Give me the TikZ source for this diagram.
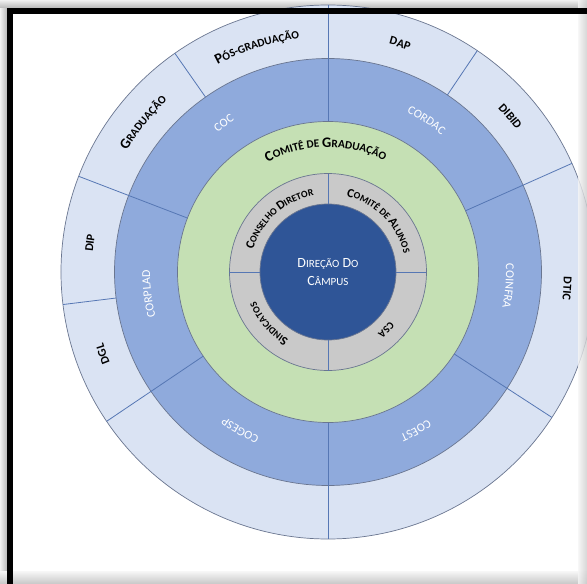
\documentclass[tikz,border=0pt]{standalone}
\usepackage{fontspec}
\setmainfont{Carlito}
\usetikzlibrary{decorations.text}

% ring colours
\definecolor{ringouter}{HTML}{DAE3F3}
\definecolor{ringblue}{HTML}{8FAADC}
\definecolor{ringgreen}{HTML}{C5E0B4}
\definecolor{ringgray}{HTML}{C9C9C9}
\definecolor{core}{HTML}{2F5597}
\definecolor{edgeline}{HTML}{6A7690}
\definecolor{spoke}{HTML}{5677B4}

% label fonts (small capitals are imitated with two sizes)
\newcommand\OuterBig{\bfseries\fontsize{14.5}{15}\selectfont}
\newcommand\OuterSmall{\bfseries\fontsize{11.3}{12}\selectfont}
\newcommand\OuterCaps{\bfseries\fontsize{12}{13}\selectfont}
\newcommand\GrayBig{\bfseries\fontsize{12.5}{13}\selectfont}
\newcommand\GraySmall{\bfseries\fontsize{9.8}{10}\selectfont}
\newcommand\GrayCaps{\bfseries\fontsize{10.5}{11}\selectfont}
\newcommand\BlueLbl{\color{white}\fontsize{12}{13}\selectfont}
\newcommand\lowcaps[1]{{\fontsize{11}{18}\selectfont #1}}

% text set clockwise along an arc: centre angle, baseline radius, half span, text
\newcommand\ringtext[4]{%
  \path[decorate, decoration={text along path, text align=center, text={#4}}]
    ({#1+#3}:#2pt) arc[start angle={#1+#3}, end angle={#1-#3}, radius=#2pt];}

\tikzset{
  ring/.style={draw=edgeline, line width=0.7pt},
  divider/.style={draw=spoke, line width=0.8pt},
}

\begin{document}
\begin{tikzpicture}[x=1pt,y=1pt]
  \useasboundingbox (-328,-312) rectangle (259,272);
  \fill[white] (-328,-312) rectangle (259,272);

  % soft shadow around the frame
  \shade[left color=black!6, right color=black!28] (-328,-312) rectangle (-321,272);
  \shade[bottom color=black!28, top color=black!6] (-328,264) rectangle (259,272);
  \shade[top color=black!3, bottom color=black!22] (-328,-312) rectangle (259,-299);

  \begin{scope}
    \clip (-328,-312) rectangle (259,272);
    % concentric rings
    \fill[ringouter, ring] (0,0) circle[radius=267];
    \fill[ringblue, ring] (0,0) circle[radius=213.5];
    \fill[ringgreen, ring] (0,0) circle[radius=150.5];
    \fill[ringgray, ring] (0,0) circle[radius=98.5];
    \fill[core, ring] (0,0) circle[radius=68];

    % dividers of the outer ring only
    \foreach \a in {125,56,187}
      \draw[divider] (\a:213.5) -- (\a:267);
    % dividers crossing the blue and the outer ring
    \foreach \a in {90,159,214,270,327,24}
      \draw[divider] (\a:150.5) -- (\a:267);
    % dividers of the grey ring
    \foreach \a in {0,90,180,270}
      \draw[divider] (\a:68) -- (\a:98.5);

    % right-hand shadow band
    \shade[left color=black!4, right color=black!20, opacity=0.8] (250,-312) rectangle (259,272);
  \end{scope}

  % black frame lines
  \fill[black] (-321,263.5) rectangle (259,258);
  \fill[black] (-321,263.5) rectangle (-314.5,-312);

  % outer ring labels
  \ringtext{107.5}{235}{25}{|\OuterBig|P|\OuterSmall|ÓS-GRADUAÇÃO}
  \ringtext{141}{235}{20}{|\OuterBig|G|\OuterSmall|RADUAÇÃO}
  \ringtext{72.5}{236}{15}{|\OuterCaps|DAP}
  \ringtext{40.5}{236}{15}{|\OuterCaps|DIBID}
  \ringtext{173}{236}{12}{|\OuterCaps|DIP}
  \ringtext{200}{236}{12}{|\OuterCaps|DGL}
  \ringtext{-4}{236}{20}{|\OuterCaps|DTIC}

  % blue ring labels
  \ringtext{125}{178}{25}{|\BlueLbl|COC}
  \ringtext{57}{178}{25}{|\BlueLbl|CORDAC}
  \ringtext{187}{178}{25}{|\BlueLbl|CORPLAD}
  \ringtext{-4.5}{178}{25}{|\BlueLbl|COINFRA}
  \ringtext{241}{178}{25}{|\BlueLbl|COGESP}
  \ringtext{299}{178}{25}{|\BlueLbl|COEST}

  % green ring label
  \ringtext{91}{125}{50}{|\OuterBig|C|\OuterSmall|OMITÊ DE |\OuterBig|G|\OuterSmall|RADUAÇÃO}

  % grey ring labels
  \ringtext{132}{78}{50}{|\GrayBig|C|\GraySmall|ONSELHO |\GrayBig|D|\GraySmall|IRETOR}
  \ringtext{45}{78}{50}{|\GrayBig|C|\GraySmall|OMITÊ DE |\GrayBig|A|\GraySmall|LUNOS}
  \ringtext{221}{78}{40}{|\GrayBig|S|\GraySmall|INDICATOS}
  \ringtext{-45}{79}{25}{|\GrayCaps|CSA}

  % centre
  \node[text=white, align=center, font=\fontsize{14}{18}\selectfont] (direcao) at (0,0)
    {D\lowcaps{IREÇÃO} D\lowcaps{O}\\C\lowcaps{ÂMPUS}};
\end{tikzpicture}
\end{document}
